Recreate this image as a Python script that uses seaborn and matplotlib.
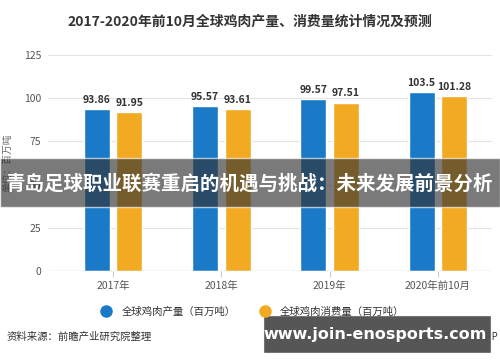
import pandas as pd
import numpy as np
import matplotlib.pyplot as plt
import seaborn as sns
from matplotlib.lines import Line2D
from matplotlib.patches import Rectangle

years = ["2017年", "2018年", "2019年", "2020年前10月"]
production = [93.86, 95.57, 99.57, 103.5]
consumption = [91.95, 93.61, 97.51, 101.28]
series = ["全球鸡肉产量（百万吨）", "全球鸡肉消费量（百万吨）"]
colors = ["#1a7ac8", "#f2aa22"]

data = pd.DataFrame({
    "year": years * 2,
    "value": production + consumption,
    "series": [series[0]] * 4 + [series[1]] * 4,
})

sns.set_style("white")
plt.rcParams["font.family"] = ["Noto Sans CJK SC", "DejaVu Sans"]

fig = plt.figure(figsize=(5, 3.62), dpi=100)
ax = fig.add_axes([0.096, 0.2514, 0.888, 0.5966])

sns.barplot(data=data, x="year", y="value", hue="series", palette=colors,
            width=0.6, gap=0.2, ax=ax, legend=False, saturation=1)

# value labels
for cont in ax.containers:
    labels = ["%g" % v for v in cont.datavalues]
    ax.bar_label(cont, labels=labels, padding=3, fontsize=7.5,
                 fontweight="bold", color="#333333")

ax.set_ylim(0, 125)
ax.set_xlim(-0.6, 3.5)
ax.set_yticks([0, 25, 50, 75, 100, 125])
ax.yaxis.grid(True, color="#e3e3e3", linewidth=0.8)
ax.set_axisbelow(True)
for s in ax.spines.values():
    s.set_visible(False)
ax.axhline(0, color="#cccccc", linewidth=0.9)
ax.tick_params(axis="y", length=0, labelsize=7.5, labelcolor="#555555", pad=5)
ax.tick_params(axis="x", length=4, color="#cccccc", labelsize=7.5,
               labelcolor="#555555", pad=3, bottom=True, direction="out")
ax.set_xlabel("")
ax.set_ylabel("单位：百万吨", fontsize=7, color="#666666", labelpad=8)

fig.text(0.5, 0.94, "2017-2020年前10月全球鸡肉产量、消费量统计情况及预测",
         ha="center", va="center", fontsize=10, fontweight="bold", color="#333333")

handles = [Line2D([], [], marker="o", linestyle="", markersize=8,
                  markerfacecolor=c, markeredgecolor=c) for c in colors]
fig.legend(handles, series, loc="center", bbox_to_anchor=(0.5, 0.138), ncol=2,
           frameon=False, fontsize=7.5, handletextpad=0.5, columnspacing=1.8,
           labelcolor="#333333")

fig.text(0.014, 0.069, "资料来源：前瞻产业研究院整理", ha="left", va="center",
         fontsize=7.5, color="#333333")
fig.text(0.996, 0.069, "@前瞻经济学人APP", ha="right", va="center",
         fontsize=7, color="#333333")

# overlay banner
fig.patches.append(Rectangle((0, 1 - 207 / 362), 1, 49 / 362, transform=fig.transFigure,
                             facecolor="#333333", alpha=0.65, zorder=5))
fig.text(0.5, 1 - 184 / 362, "青岛足球职业联赛重启的机遇与挑战：未来发展前景分析",
         ha="center", va="center", fontsize=14, fontweight="bold", color="white", zorder=6)

# bottom right box
fig.patches.append(Rectangle((263 / 500, 1 - 353 / 362), 228 / 500, 38 / 362,
                             transform=fig.transFigure, facecolor="#505050",
                             alpha=0.97, zorder=5))
fig.text(375 / 500, 1 - 334 / 362, "www.join-enosports.com", ha="center", va="center",
         fontsize=11.5, fontweight="bold", color="white", zorder=6,
         family=["DejaVu Sans"])

fig.savefig("out.png", dpi=100)
